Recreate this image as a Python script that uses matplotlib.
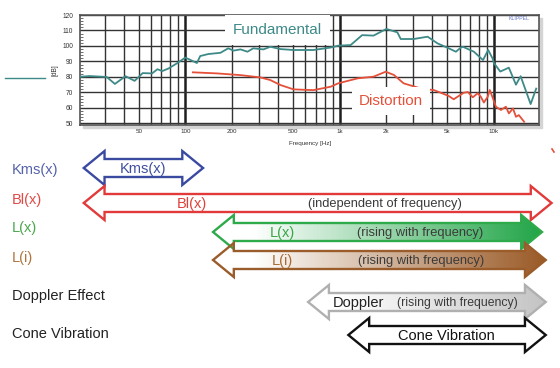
import numpy as np
import matplotlib
matplotlib.use("Agg")
import matplotlib.pyplot as plt
from matplotlib.patches import Polygon, Rectangle
from matplotlib.lines import Line2D
from matplotlib.colors import LinearSegmentedColormap
from matplotlib.transforms import blended_transform_factory

plt.rcParams['font.family'] = ['Liberation Sans', 'DejaVu Sans']

#%% data

# fundamental response (Hz, dB)
fund_f = [20, 24, 31, 35, 41, 47, 53, 61, 66, 71, 78, 89, 100, 108, 119, 125, 141, 169,
          190, 205, 228, 253, 276, 321, 356, 414, 503, 676, 875, 980, 1180, 1400, 1660,
          2010, 2370, 2490, 3020, 3720, 4310, 5100, 5670, 6100, 6290, 7420, 8500, 9180,
          9800, 10000, 11000, 12500, 13900, 14900, 17300, 18800]
fund_db = [80, 80.6, 80, 75.5, 80.5, 77.5, 82.5, 82.3, 85, 83.8, 85.5, 89, 92.5, 91, 89,
           93.5, 94.8, 95.6, 98.5, 97, 97.8, 96.3, 98.5, 97.8, 99.5, 98, 97.4, 97.4, 99,
           100.2, 100.6, 107, 106.7, 111, 108.8, 104.5, 104.5, 106, 101.7, 98.5, 96.3,
           98.9, 99.5, 96.3, 90.9, 97.4, 92, 89, 83.5, 86, 75, 80.5, 62.5, 72.5]

# distortion (Hz, dB)
dist_f = [112, 161, 228, 307, 356, 414, 503, 676, 875, 980, 1310, 1660, 1990, 2250, 2600,
          3350, 4090, 4530, 5100, 5490, 5910, 6370, 6780, 7300, 7860, 8220, 8610, 9130,
          9400, 9850, 10300, 11100, 11960, 12500, 13300, 13900, 14500, 15700]
dist_db = [83, 82.3, 81.2, 79.7, 78, 74.8, 72, 71.5, 73.7, 75.9, 79.1, 80.2, 83.4, 81.3,
           75.9, 72.6, 71.5, 69.8, 67.7, 65.6, 67.7, 69.8, 70.3, 66.9, 69.5, 67.3, 63.5,
           67.3, 71.6, 66.3, 60.8, 58.7, 60.8, 56.5, 59.7, 54.3, 55.4, 51.1]

freq_ticks = [50, 100, 200, 500, 1000, 2000, 5000, 10000]
freq_labels = ["50", "100", "200", "500", "1k", "2k", "5k", "10k"]
db_ticks = [50, 60, 70, 80, 90, 100, 110, 120]

# frequency range of each nonlinear effect
effects = ["Kms(x)", "Bl(x)", "L(x)", "L(i)", "Doppler Effect", "Cone Vibration"]
f_lo = [22, 22, 152, 152, 630, 1150]
f_hi = [131, 24000, 20800, 22000, 22000, 22000]
inner_names = ["Kms(x)", "Bl(x)", "L(x)", "L(i)", "Doppler", "Cone Vibration"]
notes = ["", "(independent of frequency)", "(rising with frequency)",
         "(rising with frequency)", "(rising with frequency)", ""]

#%% styles

W, H = 560, 368
teal = '#3d8a88'
red = '#e5503a'
label_colors = ['#5563a8', '#e04a46', '#4aa64e', '#b0743e', '#222222', '#222222']
edge_colors = ['#3a4aa0', '#e23a3a', '#2faa4a', '#9a5c2a', '#b0b0b0', '#111111']
fill_ends = [None, None, '#22a548', '#9a5a26', '#c4c4c4', None]
text_colors = ['#3f4f9f', '#e0403a', '#3aa64a', '#a86a36', '#222222', '#111111']
rows = [168, 203, 232, 260, 302, 335]      # pixel rows of the arrows
label_rows = [170, 200, 228, 258, 296, 334]
inner_x = [143, 192, 282, 282, 358, 446]
note_x = [0, 385, 420, 421, 457, 0]
px_dec = 154.0                             # pixels per decade

fig = plt.figure(figsize=(W / 100, H / 100), dpi=100)

#%% top: frequency response

x0, x1, ytop, ybot = 80, 539, 15, 125
f_left, f_right = 20.8, 19600
ax = fig.add_axes([x0 / W, 1 - ybot / H, (x1 - x0) / W, (ybot - ytop) / H])
fig.patches.append(Rectangle(((x0 + 3) / W, 1 - (ybot + 3) / H), (x1 - x0) / W, (ybot - ytop) / H,
                             transform=fig.transFigure, color='#d4d4d4', zorder=-5))

ax.semilogx(fund_f, fund_db, color=teal, lw=1.3, zorder=3)
ax.semilogx(dist_f, dist_db, color=red, lw=1.3, zorder=3)
ax.set_xlim(f_left, f_right)
ax.set_ylim(49, 120)

minor = [m * d for d in (10, 100, 1000) for m in range(2, 10) if f_left < m * d < f_right]
ax.set_xticks([100, 1000, 10000])
ax.set_xticks(minor, minor=True)
ax.set_xticklabels([])
ax.set_xticklabels([], minor=True)
for f, lab in zip(freq_ticks, freq_labels):
    ax.text(f, 46.5, lab, ha='center', va='top', fontsize=4.5, color='#333333')
ax.grid(True, which='major', axis='x', color='#1e1e1e', lw=1.8)
ax.grid(True, which='minor', axis='x', color='#333333', lw=1.0)
ax.set_yticks(db_ticks)
ax.set_yticks(np.arange(50, 121, 2), minor=True)
ax.set_yticklabels([str(v) for v in db_ticks], fontsize=4.8, color='#333333')
ax.grid(True, which='major', axis='y', color='#333333', lw=1.0)
ax.tick_params(axis='x', which='both', length=0)
ax.tick_params(axis='y', which='major', length=0, pad=5)
ax.tick_params(axis='y', which='minor', length=2.5, direction='in', color='#555555')
for s in ax.spines.values():
    s.set_color('#555555')
    s.set_linewidth(1.2)
ax.set_ylabel('[dB]', fontsize=4.8, color='#333333', labelpad=3)
fig.text(310 / W, 1 - 143 / H, 'Frequency [Hz]', ha='center', va='center', fontsize=4.5, color='#333333')

ax.text(395, 110.3, 'Fundamental', color=teal, fontsize=11, ha='center', va='center', zorder=4,
        bbox=dict(facecolor='white', edgecolor='none', pad=5.5))
ax.text(2150, 64.5, 'Distortion', color=red, fontsize=11, ha='center', va='center', zorder=4,
        bbox=dict(facecolor='white', edgecolor='none', pad=5))
ax.text(14500, 118, 'KLIPPEL', color='#6a78c4', fontsize=3.8, ha='center', va='center')

fig.add_artist(Line2D([5 / W, 45 / W], [1 - 78 / H] * 2, color=teal, lw=1.0))
fig.add_artist(Line2D([552 / W, 554 / W], [1 - 149 / H, 1 - 152 / H], color=red, lw=1.2))

#%% bottom: frequency ranges of the nonlinearities
# full-width axes, x = log10(frequency) on the same scale as the plot above

axb = fig.add_axes([0, 0, 1, (H - 145) / H])
lo = np.log10(f_left) - x0 / px_dec
axb.axis('off')

head_len, head_h, shaft_h = 0.135, 17.0, 9.0
lab_tr = blended_transform_factory(fig.transFigure, axb.transData)

for i, name in enumerate(effects):
    a, b = np.log10(f_lo[i]), np.log10(f_hi[i])
    yc = rows[i]
    pts = [(a, yc), (a + head_len, yc - head_h), (a + head_len, yc - shaft_h),
           (b - head_len, yc - shaft_h), (b - head_len, yc - head_h), (b, yc),
           (b - head_len, yc + head_h), (b - head_len, yc + shaft_h),
           (a + head_len, yc + shaft_h), (a + head_len, yc + head_h)]
    if fill_ends[i] is not None:
        cmap = LinearSegmentedColormap.from_list(
            'g', [(0, 'white'), (0.12, 'white'), (1, fill_ends[i])])
        grad = np.linspace(0, 1, 256)[None, :]
        im = axb.imshow(grad, cmap=cmap, extent=(a, b, yc + head_h, yc - head_h),
                        aspect='auto', zorder=2, interpolation='bilinear')
        clip = Polygon(pts, closed=True, facecolor='none', edgecolor='none', transform=axb.transData)
        axb.add_patch(clip)
        im.set_clip_path(clip)
        face = 'none'
    else:
        face = 'white'
    axb.add_patch(Polygon(pts, closed=True, facecolor=face, edgecolor=edge_colors[i],
                          lw=1.7, joinstyle='miter', zorder=3))

    axb.text(12 / W, label_rows[i], name, transform=lab_tr, color=label_colors[i],
             fontsize=10.5, ha='left', va='center')
    # label inside the arrow
    fx = lo + inner_x[i] / px_dec
    axb.text(fx, yc + 1, inner_names[i], color=text_colors[i], fontsize=10.5,
             ha='center', va='center', zorder=4)
    if notes[i]:
        nx = lo + note_x[i] / px_dec
        axb.text(nx, yc + 1, notes[i], color='#3a3a3a', fontsize=9.3 if i != 4 else 8.8,
                 ha='center', va='center', zorder=4)

axb.set_xlim(lo, lo + W / px_dec)
axb.set_ylim(H, 145)

fig.savefig('out.png', dpi=100)
